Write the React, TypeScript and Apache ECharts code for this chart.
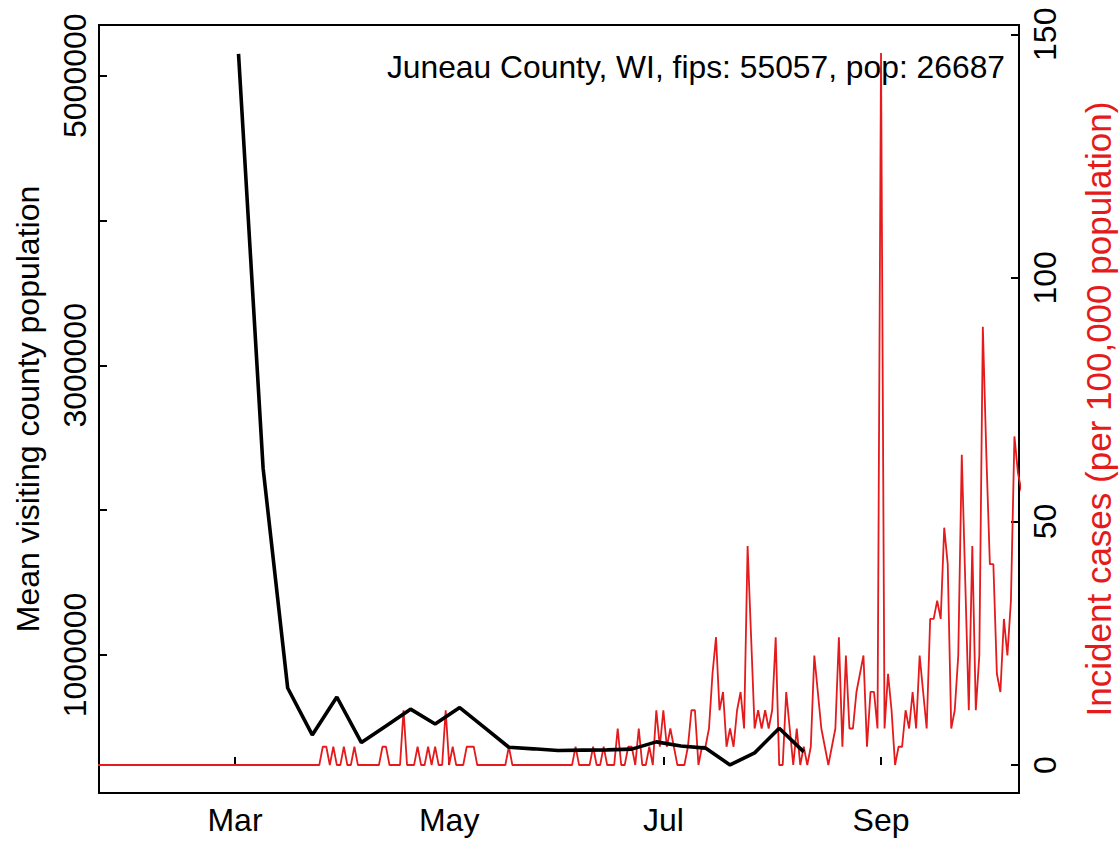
import React, { useEffect, useRef } from "react";
import * as echarts from "echarts";

// ---- data ----
const COUNTY_LABEL = "Juneau County, WI, fips: 55057, pop: 26687";
const POPULATION = 26687;

// weekly mean visiting county population (week start dates)
const visitDates = [
  "2020-03-02", "2020-03-09", "2020-03-16", "2020-03-23", "2020-03-30",
  "2020-04-06", "2020-04-13", "2020-04-20", "2020-04-27",
  "2020-05-04", "2020-05-11", "2020-05-18", "2020-05-25",
  "2020-06-01", "2020-06-08", "2020-06-15", "2020-06-22", "2020-06-29",
  "2020-07-06", "2020-07-13", "2020-07-20", "2020-07-27",
  "2020-08-03", "2020-08-10",
];
const visitValues = [
  5150000, 2290000, 772000, 448000, 710000,
  395000, 510000, 626000, 524000,
  637000, 500000, 363000, 352000,
  340000, 343000, 345000, 350000, 400000,
  372000, 357000, 241000, 324000,
  494000, 331000,
];

// daily incident case counts, starting at caseStartDate
const caseStartDate = "2020-01-22";
const dailyCases = [
  0, 0, 0, 0, 0, 0, 0, 0, 0, 0,
  0, 0, 0, 0, 0, 0, 0, 0, 0, 0,
  0, 0, 0, 0, 0, 0, 0, 0, 0, 0,
  0, 0, 0, 0, 0, 0, 0, 0, 0, 0,
  0, 0, 0, 0, 0, 0, 0, 0, 0, 0,
  0, 0, 0, 0, 0, 0, 0, 0, 0, 0,
  0, 0, 0, 0, 1, 1, 0, 1, 0, 0,
  1, 0, 0, 1, 0, 0, 0, 0, 0, 0,
  0, 1, 1, 0, 0, 0, 0, 3, 0, 0,
  0, 1, 0, 0, 1, 0, 1, 0, 0, 3,
  0, 1, 0, 0, 0, 1, 1, 1, 0, 0,
  0, 0, 0, 0, 0, 0, 0, 1, 0, 0,
  0, 0, 0, 0, 0, 0, 0, 0, 0, 0,
  0, 0, 0, 0, 0, 0, 1, 0, 0, 0,
  0, 1, 0, 0, 1, 0, 0, 0, 2, 0,
  0, 1, 1, 0, 2, 0, 0, 1, 0, 3,
  1, 3, 1, 2, 1, 0, 0, 0, 1, 3,
  3, 0, 1, 1, 2, 5, 7, 3, 4, 1,
  2, 1, 3, 4, 2, 12, 7, 2, 3, 2,
  3, 2, 3, 7, 0, 0, 4, 2, 0, 2,
  0, 1, 0, 1, 6, 4, 2, 1, 0, 1,
  2, 7, 1, 6, 2, 2, 4, 5, 6, 1,
  4, 4, 2, 39, 2, 5, 3, 0, 1, 1,
  3, 2, 4, 2, 6, 4, 2, 8, 8, 9,
  8, 13, 11, 2, 3, 6, 17, 10, 3, 12,
  3, 6, 24, 17, 11, 11, 5, 4, 8, 6,
  9, 18, 16, 15,
];

const monthTickDates = ["2020-03-01", "2020-05-01", "2020-07-01", "2020-09-01"];
const monthTickLabels = ["Mar", "May", "Jul", "Sep"];

const leftTickValues = [1000000, 2000000, 3000000, 4000000, 5000000];
const leftLabelValues = [1000000, 3000000, 5000000];
const rightTickValues = [0, 50, 100, 150];

// ---- helpers ----
const DAY0 = Date.parse("2020-01-01T00:00:00Z");
const dayNum = (s: string) => (Date.parse(s + "T00:00:00Z") - DAY0) / 86400000;

const RED = "#E41A1C";
const FONT = "'Liberation Sans', Arial, Helvetica, sans-serif";
const FS = 32;

export default function App() {
  const ref = useRef<HTMLDivElement>(null);

  useEffect(() => {
    if (!ref.current) return;
    const chart = echarts.init(ref.current, undefined, { renderer: "svg" });

    const startDay = dayNum(caseStartDate);
    const caseData = dailyCases.map((c, i) => [startDay + i, (c * 100000) / POPULATION]);
    const visitData = visitDates.map((d, i) => [dayNum(d), visitValues[i]]);
    const tickDays = monthTickDates.map(dayNum);
    const labelFor = (v: number) => {
      const idx = tickDays.findIndex((t) => Math.abs(t - v) < 0.5);
      return idx >= 0 ? monthTickLabels[idx] : "";
    };

    chart.setOption({
      animation: false,
      backgroundColor: "#ffffff",
      textStyle: { fontFamily: FONT },
      title: {
        text: COUNTY_LABEL,
        right: 109,
        top: 46,
        textStyle: { fontFamily: FONT, fontSize: 31.8, fontWeight: "normal", color: "#000" },
      },
      grid: {
        left: 99,
        right: 100,
        top: 25,
        bottom: 49,
        containLabel: false,
        outerBoundsMode: "none",
        show: true,
        borderColor: "#000",
        borderWidth: 2,
        backgroundColor: "transparent",
      },
      xAxis: {
        type: "value",
        min: 21.26,
        max: 283.3,
        splitLine: { show: false },
        axisLine: { show: false },
        axisTick: {
          show: true,
          inside: true,
          length: 8,
          customValues: tickDays,
          lineStyle: { color: "#000", width: 2 },
        },
        axisLabel: {
          customValues: tickDays,
          formatter: (v: number) => labelFor(v),
          fontSize: FS,
          color: "#000",
          fontFamily: FONT,
          margin: 11,
        },
      },
      yAxis: [
        {
          type: "value",
          position: "left",
          min: 47000,
          max: 5350000,
          splitLine: { show: false },
          axisLine: { show: false },
          axisTick: {
            show: true,
            inside: true,
            length: 8,
            customValues: leftTickValues,
            lineStyle: { color: "#000", width: 2 },
          },
          axisLabel: {
            customValues: leftLabelValues,
            rotate: 90,
            fontSize: FS,
            color: "#000",
            fontFamily: FONT,
            margin: 8,
            formatter: (v: number) => String(Math.round(v)),
          },
          name: "Mean visiting county population",
          nameLocation: "middle",
          nameRotate: 90,
          nameGap: 55,
          nameTextStyle: { fontSize: FS, color: "#000", fontFamily: FONT },
        },
        {
          type: "value",
          position: "right",
          min: -5.75,
          max: 151.9,
          splitLine: { show: false },
          axisLine: { show: false },
          axisTick: {
            show: true,
            inside: true,
            length: 8,
            customValues: rightTickValues,
            lineStyle: { color: "#000", width: 2 },
          },
          axisLabel: {
            customValues: rightTickValues,
            rotate: 90,
            fontSize: FS,
            color: "#000",
            fontFamily: FONT,
            margin: 10,
            formatter: (v: number) => String(Math.round(v)),
          },
          name: "Incident cases (per 100,000 population)",
          nameLocation: "middle",
          nameRotate: 90,
          nameGap: 62,
          nameTextStyle: { fontSize: 35, color: RED, fontFamily: FONT },
        },
      ],
      series: [
        {
          type: "line",
          name: "cases",
          yAxisIndex: 1,
          data: caseData,
          showSymbol: false,
          symbol: "none",
          clip: true,
          lineStyle: { color: RED, width: 1.8 },
          itemStyle: { color: RED },
        },
        {
          type: "line",
          name: "visiting",
          yAxisIndex: 0,
          data: visitData,
          showSymbol: false,
          symbol: "none",
          clip: true,
          lineStyle: { color: "#000", width: 3.6 },
          itemStyle: { color: "#000" },
        },
      ],
    });

    return () => chart.dispose();
  }, []);

  return (
    <div
      ref={ref}
      style={{ position: "fixed", left: 0, top: 0, width: 1119, height: 842, background: "#fff" }}
    />
  );
}
